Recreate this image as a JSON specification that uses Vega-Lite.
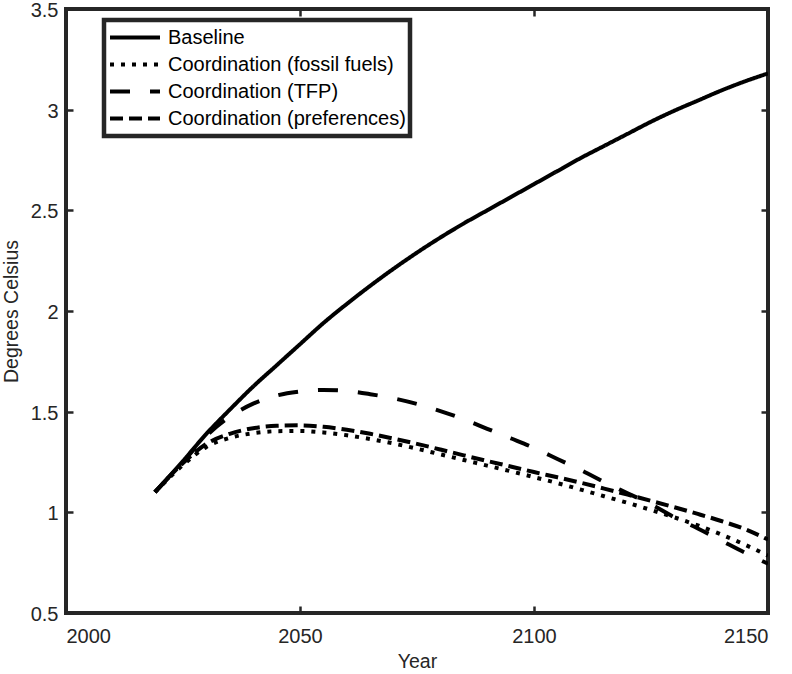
{
  "$schema": "https://vega.github.io/schema/vega-lite/v6.json",
  "autosize": {"type": "none"},
  "padding": {"left": 66, "top": 9, "right": 24, "bottom": 61},
  "width": 702,
  "height": 604,
  "background": "white",
  "config": {
    "view": {"stroke": "#262626", "strokeWidth": 4},
    "font": "Liberation Sans",
    "axis": {
      "domain": false,
      "grid": false,
      "tickColor": "#262626",
      "tickWidth": 2.5,
      "tickSize": -7,
      "labelColor": "#262626",
      "labelFont": "Liberation Sans",
      "labelFontSize": 20,
      "titleFont": "Liberation Sans",
      "titleFontSize": 19.5,
      "titleFontWeight": "normal",
      "titleColor": "#262626"
    }
  },
  "data": {
    "values": [
      {"year": 2019, "series": "Baseline", "value": 1.1},
      {"year": 2025, "series": "Baseline", "value": 1.255},
      {"year": 2030, "series": "Baseline", "value": 1.39},
      {"year": 2035, "series": "Baseline", "value": 1.51},
      {"year": 2040, "series": "Baseline", "value": 1.625},
      {"year": 2045, "series": "Baseline", "value": 1.73},
      {"year": 2050, "series": "Baseline", "value": 1.835},
      {"year": 2055, "series": "Baseline", "value": 1.94},
      {"year": 2060, "series": "Baseline", "value": 2.035},
      {"year": 2065, "series": "Baseline", "value": 2.125},
      {"year": 2070, "series": "Baseline", "value": 2.21},
      {"year": 2075, "series": "Baseline", "value": 2.29},
      {"year": 2080, "series": "Baseline", "value": 2.365},
      {"year": 2085, "series": "Baseline", "value": 2.435},
      {"year": 2090, "series": "Baseline", "value": 2.5},
      {"year": 2095, "series": "Baseline", "value": 2.565},
      {"year": 2100, "series": "Baseline", "value": 2.63},
      {"year": 2105, "series": "Baseline", "value": 2.695},
      {"year": 2110, "series": "Baseline", "value": 2.76},
      {"year": 2115, "series": "Baseline", "value": 2.82},
      {"year": 2120, "series": "Baseline", "value": 2.88},
      {"year": 2125, "series": "Baseline", "value": 2.94},
      {"year": 2130, "series": "Baseline", "value": 2.995},
      {"year": 2135, "series": "Baseline", "value": 3.045},
      {"year": 2140, "series": "Baseline", "value": 3.095},
      {"year": 2145, "series": "Baseline", "value": 3.14},
      {"year": 2150, "series": "Baseline", "value": 3.18},

      {"year": 2019, "series": "Coordination (fossil fuels)", "value": 1.1},
      {"year": 2025, "series": "Coordination (fossil fuels)", "value": 1.235},
      {"year": 2030, "series": "Coordination (fossil fuels)", "value": 1.325},
      {"year": 2035, "series": "Coordination (fossil fuels)", "value": 1.37},
      {"year": 2040, "series": "Coordination (fossil fuels)", "value": 1.393},
      {"year": 2045, "series": "Coordination (fossil fuels)", "value": 1.403},
      {"year": 2050, "series": "Coordination (fossil fuels)", "value": 1.404},
      {"year": 2055, "series": "Coordination (fossil fuels)", "value": 1.397},
      {"year": 2060, "series": "Coordination (fossil fuels)", "value": 1.383},
      {"year": 2065, "series": "Coordination (fossil fuels)", "value": 1.364},
      {"year": 2070, "series": "Coordination (fossil fuels)", "value": 1.342},
      {"year": 2075, "series": "Coordination (fossil fuels)", "value": 1.316},
      {"year": 2080, "series": "Coordination (fossil fuels)", "value": 1.288},
      {"year": 2085, "series": "Coordination (fossil fuels)", "value": 1.26},
      {"year": 2090, "series": "Coordination (fossil fuels)", "value": 1.232},
      {"year": 2095, "series": "Coordination (fossil fuels)", "value": 1.204},
      {"year": 2100, "series": "Coordination (fossil fuels)", "value": 1.175},
      {"year": 2105, "series": "Coordination (fossil fuels)", "value": 1.145},
      {"year": 2110, "series": "Coordination (fossil fuels)", "value": 1.113},
      {"year": 2115, "series": "Coordination (fossil fuels)", "value": 1.08},
      {"year": 2120, "series": "Coordination (fossil fuels)", "value": 1.047},
      {"year": 2125, "series": "Coordination (fossil fuels)", "value": 1.012},
      {"year": 2130, "series": "Coordination (fossil fuels)", "value": 0.975},
      {"year": 2135, "series": "Coordination (fossil fuels)", "value": 0.935},
      {"year": 2140, "series": "Coordination (fossil fuels)", "value": 0.89},
      {"year": 2145, "series": "Coordination (fossil fuels)", "value": 0.84},
      {"year": 2150, "series": "Coordination (fossil fuels)", "value": 0.785},

      {"year": 2019, "series": "Coordination (TFP)", "value": 1.1},
      {"year": 2025, "series": "Coordination (TFP)", "value": 1.25},
      {"year": 2030, "series": "Coordination (TFP)", "value": 1.38},
      {"year": 2035, "series": "Coordination (TFP)", "value": 1.475},
      {"year": 2040, "series": "Coordination (TFP)", "value": 1.54},
      {"year": 2045, "series": "Coordination (TFP)", "value": 1.58},
      {"year": 2050, "series": "Coordination (TFP)", "value": 1.6},
      {"year": 2055, "series": "Coordination (TFP)", "value": 1.608},
      {"year": 2060, "series": "Coordination (TFP)", "value": 1.603},
      {"year": 2065, "series": "Coordination (TFP)", "value": 1.587},
      {"year": 2070, "series": "Coordination (TFP)", "value": 1.566},
      {"year": 2075, "series": "Coordination (TFP)", "value": 1.538},
      {"year": 2080, "series": "Coordination (TFP)", "value": 1.503},
      {"year": 2085, "series": "Coordination (TFP)", "value": 1.462},
      {"year": 2090, "series": "Coordination (TFP)", "value": 1.415},
      {"year": 2095, "series": "Coordination (TFP)", "value": 1.368},
      {"year": 2100, "series": "Coordination (TFP)", "value": 1.32},
      {"year": 2105, "series": "Coordination (TFP)", "value": 1.265},
      {"year": 2110, "series": "Coordination (TFP)", "value": 1.21},
      {"year": 2115, "series": "Coordination (TFP)", "value": 1.15},
      {"year": 2120, "series": "Coordination (TFP)", "value": 1.095},
      {"year": 2125, "series": "Coordination (TFP)", "value": 1.04},
      {"year": 2130, "series": "Coordination (TFP)", "value": 0.975},
      {"year": 2135, "series": "Coordination (TFP)", "value": 0.92},
      {"year": 2140, "series": "Coordination (TFP)", "value": 0.86},
      {"year": 2145, "series": "Coordination (TFP)", "value": 0.8},
      {"year": 2150, "series": "Coordination (TFP)", "value": 0.745},

      {"year": 2019, "series": "Coordination (preferences)", "value": 1.1},
      {"year": 2025, "series": "Coordination (preferences)", "value": 1.245},
      {"year": 2030, "series": "Coordination (preferences)", "value": 1.34},
      {"year": 2035, "series": "Coordination (preferences)", "value": 1.39},
      {"year": 2040, "series": "Coordination (preferences)", "value": 1.418},
      {"year": 2045, "series": "Coordination (preferences)", "value": 1.43},
      {"year": 2050, "series": "Coordination (preferences)", "value": 1.432},
      {"year": 2055, "series": "Coordination (preferences)", "value": 1.425},
      {"year": 2060, "series": "Coordination (preferences)", "value": 1.41},
      {"year": 2065, "series": "Coordination (preferences)", "value": 1.39},
      {"year": 2070, "series": "Coordination (preferences)", "value": 1.366},
      {"year": 2075, "series": "Coordination (preferences)", "value": 1.34},
      {"year": 2080, "series": "Coordination (preferences)", "value": 1.312},
      {"year": 2085, "series": "Coordination (preferences)", "value": 1.283},
      {"year": 2090, "series": "Coordination (preferences)", "value": 1.255},
      {"year": 2095, "series": "Coordination (preferences)", "value": 1.228},
      {"year": 2100, "series": "Coordination (preferences)", "value": 1.2},
      {"year": 2105, "series": "Coordination (preferences)", "value": 1.174},
      {"year": 2110, "series": "Coordination (preferences)", "value": 1.147},
      {"year": 2115, "series": "Coordination (preferences)", "value": 1.118},
      {"year": 2120, "series": "Coordination (preferences)", "value": 1.088},
      {"year": 2125, "series": "Coordination (preferences)", "value": 1.057},
      {"year": 2130, "series": "Coordination (preferences)", "value": 1.025},
      {"year": 2135, "series": "Coordination (preferences)", "value": 0.992},
      {"year": 2140, "series": "Coordination (preferences)", "value": 0.957},
      {"year": 2145, "series": "Coordination (preferences)", "value": 0.917},
      {"year": 2150, "series": "Coordination (preferences)", "value": 0.865}
    ]
  },
  "layer": [
    {
      "mark": {"type": "line", "color": "black", "strokeWidth": 4, "interpolate": "monotone", "strokeCap": "butt", "clip": true},
      "encoding": {
        "x": {
          "field": "year", "type": "quantitative",
          "scale": {"domain": [2000, 2150], "nice": false, "zero": false},
          "axis": {"title": "Year", "values": [2000, 2050, 2100, 2150], "format": "d", "labelPadding": 20, "titlePadding": 6, "orient": "bottom"}
        },
        "y": {
          "field": "value", "type": "quantitative",
          "scale": {"domain": [0.5, 3.5], "nice": false, "zero": false},
          "axis": {"title": "Degrees Celsius", "values": [0.5, 1, 1.5, 2, 2.5, 3, 3.5], "format": "~g", "labelPadding": 15, "labelOffset": 1.5, "titlePadding": 9, "orient": "left"}
        },
        "strokeDash": {
          "field": "series", "type": "nominal",
          "scale": {
            "domain": ["Baseline", "Coordination (fossil fuels)", "Coordination (TFP)", "Coordination (preferences)"],
            "range": [[1, 0], [4, 7], [20, 20], [13, 6]]
          },
          "legend": {
            "title": null,
            "orient": "none",
            "legendX": 38,
            "legendY": 11,
            "direction": "vertical",
            "symbolType": "stroke",
            "symbolSize": 2500,
            "symbolStrokeWidth": 4,
            "symbolStrokeColor": "black",
            "clipHeight": 27,
            "rowPadding": 0,
            "labelOffset": 6,
            "labelFont": "Liberation Sans",
            "labelFontSize": 20,
            "labelColor": "black",
            "labelLimit": 400,
            "padding": 4,
            "fillColor": "white",
            "strokeColor": "#262626",
            "encode": {"legend": {"update": {"strokeWidth": {"value": 4.5}}}}
          }
        }
      }
    },
    {
      "mark": {"type": "line", "opacity": 0},
      "encoding": {
        "x": {
          "field": "year", "type": "quantitative",
          "axis": {"orient": "top", "title": null, "labels": false, "values": [2000, 2050, 2100, 2150]}
        },
        "y": {
          "field": "value", "type": "quantitative",
          "axis": {"orient": "right", "title": null, "labels": false, "values": [0.5, 1, 1.5, 2, 2.5, 3, 3.5]}
        },
        "detail": {"field": "series"}
      }
    }
  ],
  "resolve": {"axis": {"x": "independent", "y": "independent"}}
}
